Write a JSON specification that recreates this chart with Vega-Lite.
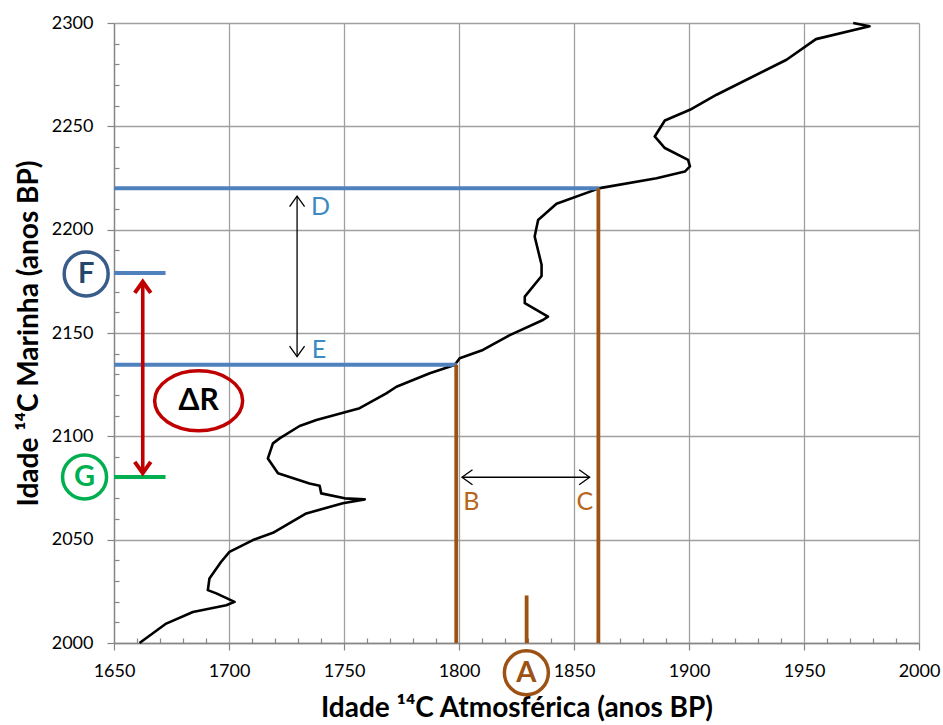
{
  "$schema": "https://vega.github.io/schema/vega-lite/v6.json",
  "width": 805,
  "height": 620,
  "autosize": {"type": "none"},
  "padding": {"left": 114, "top": 23, "right": 24, "bottom": 82},
  "background": "white",
  "config": {"view": {"stroke": null}},
  "datasets": {
    "curve": [
      {"i": 1, "atm": 1971.4, "mar": 2300.0},
      {"i": 2, "atm": 1978.5, "mar": 2298.4},
      {"i": 3, "atm": 1955.2, "mar": 2292.2},
      {"i": 4, "atm": 1942.4, "mar": 2282.2},
      {"i": 5, "atm": 1912.0, "mar": 2265.3},
      {"i": 6, "atm": 1900.4, "mar": 2258.0},
      {"i": 7, "atm": 1889.5, "mar": 2252.8},
      {"i": 8, "atm": 1885.1, "mar": 2245.1},
      {"i": 9, "atm": 1889.5, "mar": 2239.5},
      {"i": 10, "atm": 1899.6, "mar": 2233.8},
      {"i": 11, "atm": 1900.4, "mar": 2230.6},
      {"i": 12, "atm": 1898.2, "mar": 2228.1},
      {"i": 13, "atm": 1885.9, "mar": 2224.9},
      {"i": 14, "atm": 1861.2, "mar": 2220.1},
      {"i": 15, "atm": 1842.4, "mar": 2212.5},
      {"i": 16, "atm": 1834.4, "mar": 2204.7},
      {"i": 17, "atm": 1832.9, "mar": 2196.7},
      {"i": 18, "atm": 1835.9, "mar": 2183.0},
      {"i": 19, "atm": 1835.9, "mar": 2177.6},
      {"i": 20, "atm": 1828.6, "mar": 2167.6},
      {"i": 21, "atm": 1828.6, "mar": 2164.4},
      {"i": 22, "atm": 1838.7, "mar": 2157.9},
      {"i": 23, "atm": 1836.5, "mar": 2156.3},
      {"i": 24, "atm": 1822.1, "mar": 2149.0},
      {"i": 25, "atm": 1810.4, "mar": 2141.8},
      {"i": 26, "atm": 1800.3, "mar": 2137.8},
      {"i": 27, "atm": 1798.1, "mar": 2134.5},
      {"i": 28, "atm": 1787.3, "mar": 2130.5},
      {"i": 29, "atm": 1772.8, "mar": 2124.0},
      {"i": 30, "atm": 1768.4, "mar": 2120.8},
      {"i": 31, "atm": 1756.8, "mar": 2113.6},
      {"i": 32, "atm": 1738.0, "mar": 2107.9},
      {"i": 33, "atm": 1730.7, "mar": 2105.0},
      {"i": 34, "atm": 1722.0, "mar": 2099.0},
      {"i": 35, "atm": 1719.1, "mar": 2096.6},
      {"i": 36, "atm": 1716.9, "mar": 2089.3},
      {"i": 37, "atm": 1721.3, "mar": 2082.1},
      {"i": 38, "atm": 1735.0, "mar": 2077.2},
      {"i": 39, "atm": 1739.4, "mar": 2076.1},
      {"i": 40, "atm": 1740.1, "mar": 2072.4},
      {"i": 41, "atm": 1750.3, "mar": 2070.0},
      {"i": 42, "atm": 1759.0, "mar": 2069.5},
      {"i": 43, "atm": 1749.5, "mar": 2067.6},
      {"i": 44, "atm": 1733.6, "mar": 2062.7},
      {"i": 45, "atm": 1719.1, "mar": 2053.3},
      {"i": 46, "atm": 1710.4, "mar": 2049.8},
      {"i": 47, "atm": 1700.2, "mar": 2044.1},
      {"i": 48, "atm": 1696.6, "mar": 2039.3},
      {"i": 49, "atm": 1691.5, "mar": 2031.2},
      {"i": 50, "atm": 1690.8, "mar": 2025.6},
      {"i": 51, "atm": 1694.5, "mar": 2024.0},
      {"i": 52, "atm": 1702.4, "mar": 2019.9},
      {"i": 53, "atm": 1698.8, "mar": 2018.3},
      {"i": 54, "atm": 1684.3, "mar": 2015.0},
      {"i": 55, "atm": 1672.7, "mar": 2009.4},
      {"i": 56, "atm": 1661.1, "mar": 2000.0}
    ],
    "blueLines": [
      {"atm": 1650, "atm2": 1861, "mar": 2220},
      {"atm": 1650, "atm2": 1799, "mar": 2134.6},
      {"atm": 1650, "atm2": 1672.4, "mar": 2179}
    ],
    "greenLines": [
      {"atm": 1650, "atm2": 1672.4, "mar": 2080.3}
    ],
    "brownLines": [
      {"atm": 1798.8, "mar": 2000, "mar2": 2134.6},
      {"atm": 1860.6, "mar": 2000, "mar2": 2220},
      {"atm": 1829.4, "mar": 2000, "mar2": 2023}
    ],
    "blackArrows": [
      {"atm": 1729.6, "atm2": 1729.6, "mar": 2138.6, "mar2": 2216.2},
      {"atm": 1801.3, "atm2": 1856.8, "mar": 2080.2, "mar2": 2080.2}
    ],
    "blackHeads": [
      {"atm": 1729.6, "mar": 2216.2, "dir": "up"},
      {"atm": 1729.6, "mar": 2138.6, "dir": "down"},
      {"atm": 1801.3, "mar": 2080.2, "dir": "left"},
      {"atm": 1856.8, "mar": 2080.2, "dir": "right"}
    ],
    "redArrow": [
      {"atm": 1662.5, "atm2": 1662.5, "mar": 2083.5, "mar2": 2173.5}
    ],
    "redHeads": [
      {"atm": 1662.5, "mar": 2174.8, "dir": "up"},
      {"atm": 1662.5, "mar": 2082.2, "dir": "down"}
    ],
    "blueLabels": [
      {"atm": 1735.6, "mar": 2207.2, "t": "D"},
      {"atm": 1736.0, "mar": 2137.8, "t": "E"}
    ],
    "brownLabels": [
      {"atm": 1801.8, "mar": 2064.3, "t": "B"},
      {"atm": 1851.1, "mar": 2064.3, "t": "C"}
    ],
    "circleF": [{"atm": 1637.9, "mar": 2178.6, "t": "F"}],
    "circleG": [{"atm": 1637.2, "mar": 2080.3, "t": "G"}],
    "circleA": [{"atm": 1829.3, "mar": 1985.6, "t": "A"}],
    "deltaR": [{"atm": 1686.8, "mar": 2117.2, "t": "ΔR"}]
  },
  "encoding": {
    "x": {
      "field": "atm", "type": "quantitative",
      "scale": {"domain": [1650, 2000], "nice": false, "zero": false},
      "axis": {
        "title": "Idade ¹⁴C Atmosférica (anos BP)",
        "values": [1650,1660,1670,1680,1690,1700,1710,1720,1730,1740,1750,1760,1770,1780,1790,1800,1810,1820,1830,1840,1850,1860,1870,1880,1890,1900,1910,1920,1930,1940,1950,1960,1970,1980,1990,2000],
        "format": "d",
        "labelExpr": "datum.value % 50 === 0 ? datum.label : ''",
        "labelOverlap": false, "labelFlush": false,
        "labelFont": "Lato", "labelFontSize": 18, "labelColor": "#000000", "labelPadding": 12,
        "tickSize": {"condition": {"test": "datum.value % 50 === 0", "value": 7}, "value": -5},
        "tickColor": "#868686", "tickWidth": 1.2,
        "grid": true,
        "gridOpacity": {"condition": {"test": "datum.value % 50 === 0", "value": 1}, "value": 0},
        "gridColor": "#a0a0a0", "gridWidth": 1.3,
        "domainColor": "#868686", "domainWidth": 1.3,
        "titleFont": "Lato", "titleFontSize": 28, "titleFontWeight": "bold", "titleColor": "#000000", "titlePadding": 14
      }
    },
    "y": {
      "field": "mar", "type": "quantitative",
      "scale": {"domain": [2000, 2300], "nice": false, "zero": false},
      "axis": {
        "title": "Idade ¹⁴C Marinha (anos BP)",
        "values": [2000,2010,2020,2030,2040,2050,2060,2070,2080,2090,2100,2110,2120,2130,2140,2150,2160,2170,2180,2190,2200,2210,2220,2230,2240,2250,2260,2270,2280,2290,2300],
        "format": "d",
        "labelExpr": "datum.value % 50 === 0 ? datum.label : ''",
        "labelOverlap": false, "labelFlush": false,
        "labelFont": "Lato", "labelFontSize": 18, "labelColor": "#000000", "labelPadding": 14,
        "tickSize": {"condition": {"test": "datum.value % 50 === 0", "value": 7}, "value": -5},
        "tickColor": "#868686", "tickWidth": 1.2,
        "grid": true,
        "gridOpacity": {"condition": {"test": "datum.value % 50 === 0", "value": 1}, "value": 0},
        "gridColor": "#a0a0a0", "gridWidth": 1.3,
        "domainColor": "#868686", "domainWidth": 1.3,
        "titleFont": "Lato", "titleFontSize": 28, "titleFontWeight": "bold", "titleColor": "#000000", "titlePadding": 8
      }
    }
  },
  "layer": [
    {
      "data": {"name": "curve"},
      "mark": {"type": "line", "color": "#000000", "strokeWidth": 2.6, "strokeJoin": "round"},
      "encoding": {"order": {"field": "i", "type": "quantitative"}}
    },
    {
      "data": {"name": "blueLines"},
      "mark": {"type": "rule", "color": "#4f81bd", "strokeWidth": 4},
      "encoding": {"x2": {"field": "atm2"}}
    },
    {
      "data": {"name": "greenLines"},
      "mark": {"type": "rule", "color": "#00b050", "strokeWidth": 4},
      "encoding": {"x2": {"field": "atm2"}}
    },
    {
      "data": {"name": "brownLines"},
      "mark": {"type": "rule", "color": "#9c5214", "strokeWidth": 3.8},
      "encoding": {"y2": {"field": "mar2"}}
    },
    {
      "data": {"name": "blackArrows"},
      "mark": {"type": "rule", "color": "#000000", "strokeWidth": 1.3},
      "encoding": {"x2": {"field": "atm2"}, "y2": {"field": "mar2"}}
    },
    {
      "data": {"name": "blackHeads"},
      "mark": {"type": "point", "filled": false, "stroke": "#000000", "strokeWidth": 1.3, "size": 225, "opacity": 1},
      "encoding": {
        "shape": {"field": "dir", "type": "nominal", "legend": null,
          "scale": {"domain": ["up", "down", "left", "right"],
                    "range": ["M-1,1.4L0,0L1,1.4", "M-1,-1.4L0,0L1,-1.4", "M1.4,-1L0,0L1.4,1", "M-1.4,-1L0,0L-1.4,1"]}}
      }
    },
    {
      "data": {"name": "redArrow"},
      "mark": {"type": "rule", "color": "#c00000", "strokeWidth": 3.6},
      "encoding": {"x2": {"field": "atm2"}, "y2": {"field": "mar2"}}
    },
    {
      "data": {"name": "redHeads"},
      "mark": {"type": "point", "filled": false, "stroke": "#c00000", "strokeWidth": 4, "size": 256, "opacity": 1, "strokeJoin": "miter"},
      "encoding": {
        "shape": {"field": "dir", "type": "nominal", "legend": null,
          "scale": {"domain": ["up", "down", "left", "right"],
                    "range": ["M-1,1.4L0,0L1,1.4", "M-1,-1.4L0,0L1,-1.4", "M1.4,-1L0,0L1.4,1", "M-1.4,-1L0,0L-1.4,1"]}}
      }
    },
    {
      "data": {"name": "blueLabels"},
      "mark": {"type": "text", "font": "Lato", "fontSize": 25, "color": "#3b8ac4", "align": "left", "baseline": "alphabetic"},
      "encoding": {"text": {"field": "t"}}
    },
    {
      "data": {"name": "brownLabels"},
      "mark": {"type": "text", "font": "Lato", "fontSize": 25, "color": "#b8651e", "align": "left", "baseline": "alphabetic"},
      "encoding": {"text": {"field": "t"}}
    },
    {
      "data": {"name": "circleF"},
      "mark": {"type": "point", "shape": "circle", "filled": false, "stroke": "#385d8a", "strokeWidth": 3.5, "size": 1936, "opacity": 1}
    },
    {
      "data": {"name": "circleF"},
      "mark": {"type": "text", "font": "Lato", "fontSize": 29, "fontWeight": "bold", "color": "#24476b", "align": "center", "baseline": "middle"},
      "encoding": {"text": {"field": "t"}}
    },
    {
      "data": {"name": "circleG"},
      "mark": {"type": "point", "shape": "circle", "filled": false, "stroke": "#00b050", "strokeWidth": 3.5, "size": 1936, "opacity": 1}
    },
    {
      "data": {"name": "circleG"},
      "mark": {"type": "text", "font": "Lato", "fontSize": 29, "fontWeight": "bold", "color": "#00b050", "align": "center", "baseline": "middle"},
      "encoding": {"text": {"field": "t"}}
    },
    {
      "data": {"name": "circleA"},
      "mark": {"type": "point", "shape": "circle", "filled": false, "stroke": "#9c5214", "strokeWidth": 3.5, "size": 1936, "opacity": 1}
    },
    {
      "data": {"name": "circleA"},
      "mark": {"type": "text", "font": "Lato", "fontSize": 29, "fontWeight": "bold", "color": "#9c5214", "align": "center", "baseline": "middle"},
      "encoding": {"text": {"field": "t"}}
    },
    {
      "data": {"name": "deltaR"},
      "mark": {"type": "point", "shape": "M-1,0C-1,-0.3756 -0.5523,-0.68 0,-0.68C0.5523,-0.68 1,-0.3756 1,0C1,0.3756 0.5523,0.68 0,0.68C-0.5523,0.68 -1,0.3756 -1,0Z", "filled": false, "stroke": "#c00000", "strokeWidth": 3.5, "size": 7744, "opacity": 1}
    },
    {
      "data": {"name": "deltaR"},
      "mark": {"type": "text", "font": "Lato", "fontSize": 30, "fontWeight": "bold", "color": "#000000", "align": "center", "baseline": "middle"},
      "encoding": {"text": {"field": "t"}}
    }
  ]
}
